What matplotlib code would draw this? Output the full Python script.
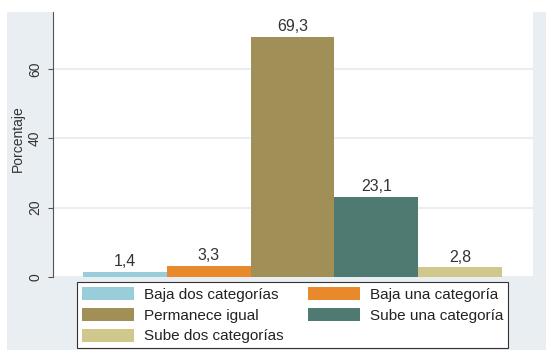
import matplotlib
matplotlib.use("Agg")
import matplotlib.pyplot as plt
from matplotlib.patches import Rectangle

# data
categories = ["Baja dos categorías", "Baja una categoría", "Permanece igual",
              "Sube una categoría", "Sube dos categorías"]
values = [1.4, 3.3, 69.3, 23.1, 2.8]
colors = ["#98CDD9", "#E8892C", "#A08F57", "#4E7A72", "#D0C78D"]
yticks = [0, 20, 40, 60]

plt.rcParams['font.family'] = ['Liberation Sans', 'DejaVu Sans']

W, H = 546, 350
fig = plt.figure(figsize=(W / 100, H / 100), dpi=100, facecolor="white")

# light outer background (Stata style), with a white strip at the top/left
bgc = "#E9EEF2"
fig.patches.append(Rectangle((7 / W, 0), 1, (H - 12) / H, transform=fig.transFigure,
                             facecolor=bgc, edgecolor="none", zorder=-5))

ax = fig.add_axes([53 / W, (H - 277) / H, (533 - 53) / W, 277 / H], zorder=2)
ax.set_facecolor("white")

xs = range(len(values))
bars = ax.bar(xs, values, width=1.0, color=colors, edgecolor="none", zorder=3)
ax.bar_label(bars, labels=[f"{v:.1f}".replace(".", ",") for v in values],
             padding=2, fontsize=11.5, color="#333333")

ax.set_xlim(-0.86, 4.87)
ax.set_ylim(0, 277 / 3.47)
ax.set_yticks(yticks)
ax.tick_params(axis="y", length=3.6, color="#555555", labelsize=10,
               labelcolor="#333333", labelrotation=90, pad=4.3)
for lab in ax.get_yticklabels():
    lab.set_va("center")
ax.set_xticks([])
ax.yaxis.grid(True, color=bgc, linewidth=1.5, zorder=0)
for side in ["top", "right", "bottom"]:
    ax.spines[side].set_visible(False)
ax.spines["left"].set_color("#555555")
ax.spines["left"].set_bounds(0, 265 / 3.47)
ax.set_ylabel("Porcentaje", fontsize=10, color="#333333")
ax.yaxis.set_label_coords(-0.058, 0.5)

order = [0, 2, 4, 1, 3]
leg = fig.legend([bars[i] for i in order], [categories[i] for i in order],
                 ncol=2, loc="upper center",
                 bbox_to_anchor=(292.5 / W, (H - 282) / H),
                 fontsize=11, frameon=True, fancybox=False, framealpha=1,
                 handlelength=3.4, handleheight=0.92, handletextpad=0.65,
                 columnspacing=1.63, labelspacing=0.4, borderpad=0.33,
                 borderaxespad=0)
leg.set_zorder(5)
leg.get_frame().set_edgecolor("#333333")
leg.get_frame().set_linewidth(0.8)
leg.get_frame().set_facecolor("white")
for t in leg.get_texts():
    t.set_color("#222222")

fig.savefig("out.png", dpi=100, facecolor=fig.get_facecolor())
